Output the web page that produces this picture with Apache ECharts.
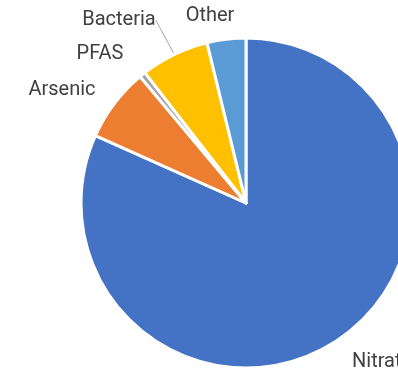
<!DOCTYPE html>
<html>
<head>
<meta charset="utf-8">
<script src="https://cdn.jsdelivr.net/npm/echarts@6/dist/echarts.min.js"></script>
<style>
  html, body { margin: 0; padding: 0; background: #fff; }
  #chart { width: 398px; height: 375px; }
</style>
</head>
<body>
<div id="chart"></div>
<script>
// Contaminant shares (percent), clockwise from 12 o'clock
const categories = ['Nitrate', 'Arsenic', 'PFAS', 'Bacteria', 'Other'];
const shares = [81.7, 7.2, 0.6, 6.7, 3.8];
const colors = ['#4472C4', '#ED7D31', '#A5A5A5', '#FFC000', '#5B9BD5'];

// Label anchor spots around the pie (pixel positions of the text)
const labelSpots = {
  Nitrate: { x: 352, y: 362, align: 'left' },
  Arsenic: { x: 62, y: 90, align: 'center' },
  PFAS: { x: 100, y: 54, align: 'center' },
  Bacteria: { x: 119, y: 20, align: 'center' },
  Other: { x: 210, y: 16, align: 'center' }
};

const chart = echarts.init(document.getElementById('chart'), null, { renderer: 'canvas' });

chart.setOption({
  animation: false,
  series: [{
    type: 'pie',
    center: [246, 203],
    radius: [0, 165],
    startAngle: 90,
    clockwise: true,
    avoidLabelOverlap: false,
    itemStyle: { borderColor: '#ffffff', borderWidth: 3 },
    label: {
      show: true,
      position: 'outside',
      formatter: '{b}',
      fontFamily: 'Roboto',
      fontSize: 20,
      color: '#404040'
    },
    labelLine: { show: false },
    labelLayout: function (params) {
      const name = categories[params.dataIndex];
      const s = labelSpots[name];
      return { x: s.x, y: s.y, align: s.align, verticalAlign: 'middle' };
    },
    data: categories.map(function (name, i) {
      const item = { name: name, value: shares[i], itemStyle: { color: colors[i] } };
      if (name === 'Bacteria') {
        item.labelLine = { show: true, length: 5, length2: 0, lineStyle: { color: '#A6A6A6', width: 1 } };
      }
      return item;
    })
  }]
});
</script>
</body>
</html>
